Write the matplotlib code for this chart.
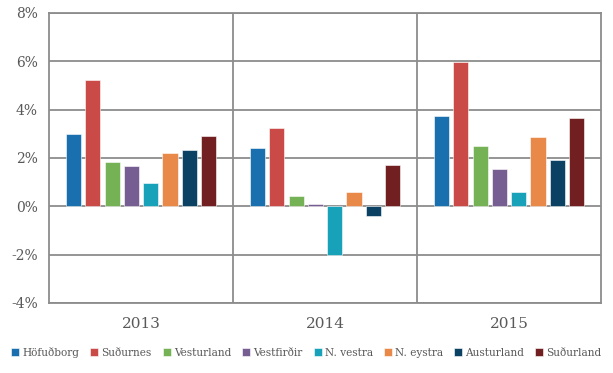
import numpy as np
import matplotlib
matplotlib.use('Agg')
import matplotlib.pyplot as plt
from matplotlib.ticker import FuncFormatter

# regions and yearly values (%)
years = ['2013', '2014', '2015']
regions = ['Höfuðborg', 'Suðurnes', 'Vesturland', 'Vestfirðir',
           'N. vestra', 'N. eystra', 'Austurland', 'Suðurland']
hofudborg = [3.0, 2.42, 3.75]
sudurnes = [5.23, 3.25, 5.95]
vesturland = [1.84, 0.43, 2.5]
vestfirdir = [1.68, 0.1, 1.55]
n_vestra = [0.97, -2.0, 0.57]
n_eystra = [2.21, 0.6, 2.86]
austurland = [2.34, -0.4, 1.91]
sudurland = [2.92, 1.72, 3.67]
series = [hofudborg, sudurnes, vesturland, vestfirdir,
          n_vestra, n_eystra, austurland, sudurland]
colors = ['#1a6fae', '#c94a46', '#74b255', '#765e93',
          '#17a2ba', '#e8894a', '#0b4264', '#721f22']

plt.rcParams['font.family'] = ['DejaVu Serif']
txt = '#595959'
grid_c = '#8c8c8c'

fig = plt.figure(figsize=(6.13, 3.73), dpi=100)
ax = fig.add_axes([0.08, 0.188, 0.9005, 0.7775])

x = np.arange(len(years))
step = 0.105
width = 0.082
for i, (vals, c) in enumerate(zip(series, colors)):
    off = (i - 3.5) * step
    ax.bar(x + off, vals, width, color=c, edgecolor='white', linewidth=0.4,
           label=regions[i], zorder=3)

ax.set_xlim(-0.5, 2.5)
ax.set_ylim(-4, 8)
ax.set_yticks(np.arange(-4, 9, 2))
ax.yaxis.set_major_formatter(FuncFormatter(lambda v, p: '%d%%' % v))
ax.set_xticks(x)
ax.set_xticklabels(years)
ax.set_xticks([0.5, 1.5], minor=True)
ax.tick_params(axis='both', which='both', length=0, colors=txt, labelsize=10)
ax.tick_params(axis='x', pad=10, labelsize=11)
ax.tick_params(axis='y', pad=8)
ax.grid(axis='y', color=grid_c, linewidth=1.3, zorder=0)
ax.grid(axis='x', which='minor', color=grid_c, linewidth=1.3, zorder=0)
for s in ax.spines.values():
    s.set_color(grid_c)
    s.set_linewidth(1.3)

fig.legend(loc='center', bbox_to_anchor=(0.5, 0.056), ncol=8, frameon=False,
           fontsize=7.6, handlelength=0.75, handleheight=0.75, handletextpad=0.3,
           columnspacing=1.05, labelcolor=txt)

fig.savefig('out.png', dpi=100)
